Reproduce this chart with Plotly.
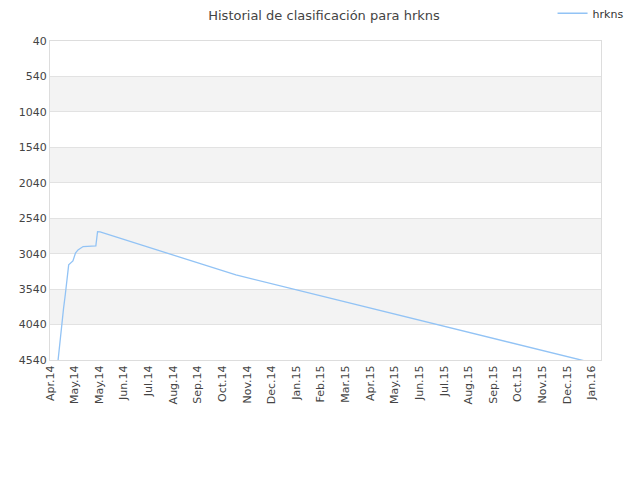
import plotly.graph_objects as go

# datos de la clasificación
fechas = [
    "2014-04-12", "2014-04-15", "2014-04-17", "2014-04-19", "2014-04-21",
    "2014-04-23", "2014-04-24", "2014-04-25", "2014-04-30", "2014-05-02",
    "2014-05-03", "2014-05-06", "2014-05-12", "2014-05-27", "2014-05-28",
    "2014-05-29", "2014-06-01", "2014-11-08", "2015-12-18", "2016-01-12",
]
posiciones = [
    4600, 4230, 4043, 3808, 3620,
    3385, 3245, 3198, 3142, 3081,
    3033, 2987, 2940, 2931, 2846,
    2729, 2734, 3339, 4536, 4605,
]

# etiquetas del eje x (cada 29 días)
tick_fechas = [
    "2014-04-03", "2014-05-02", "2014-05-31", "2014-06-29", "2014-07-28",
    "2014-08-26", "2014-09-24", "2014-10-23", "2014-11-21", "2014-12-20",
    "2015-01-18", "2015-02-16", "2015-03-17", "2015-04-15", "2015-05-14",
    "2015-06-12", "2015-07-11", "2015-08-09", "2015-09-07", "2015-10-06",
    "2015-11-04", "2015-12-03", "2016-01-01",
]
tick_textos = [
    "Apr.14", "May.14", "May.14", "Jun.14", "Jul.14", "Aug.14", "Sep.14",
    "Oct.14", "Nov.14", "Dec.14", "Jan.15", "Feb.15", "Mar.15", "Apr.15",
    "May.15", "Jun.15", "Jul.15", "Aug.15", "Sep.15", "Oct.15", "Nov.15",
    "Dec.15", "Jan.16",
]
y_ticks = [40, 540, 1040, 1540, 2040, 2540, 3040, 3540, 4040, 4540]

fig = go.Figure()
fig.add_trace(go.Scatter(
    x=fechas, y=posiciones, mode="lines", name="hrkns",
    line=dict(color="#92c3f5", width=1.3),
))

# bandas grises alternas
for i in range(1, len(y_ticks) - 1, 2):
    fig.add_shape(type="rect", xref="paper", yref="y", x0=0, x1=1,
                  y0=y_ticks[i], y1=y_ticks[i + 1],
                  fillcolor="#f3f3f3", line_width=0, layer="below")

# la página tiene 8px de margen, se compensa aquí
fig.update_layout(
    width=632, height=472,
    title=dict(text="Historial de clasificación para hrkns", x=0.5, xanchor="center",
               y=1, yanchor="top", pad=dict(t=3, b=0),
               font=dict(size=13, color="#444")),
    font=dict(family="DejaVu Sans", size=11, color="#444"),
    margin=dict(l=42, r=39, t=33, b=120, autoexpand=False),
    plot_bgcolor="white", paper_bgcolor="white",
    showlegend=True,
    legend=dict(x=1.05, xanchor="right", y=1.087, yanchor="middle",
                font=dict(size=11, color="#333"), bgcolor="rgba(0,0,0,0)"),
    xaxis=dict(
        type="date", range=["2014-04-03", "2016-01-12"],
        tickmode="array", tickvals=tick_fechas, ticktext=tick_textos,
        tickangle=-90, showgrid=False, showline=True, linecolor="#ddd",
        mirror=True, ticks="", zeroline=False, automargin=False,
    ),
    yaxis=dict(
        range=[4540, 40], tickmode="array", tickvals=y_ticks,
        showgrid=True, gridcolor="#e2e2e2", showline=True, linecolor="#ddd",
        mirror=True, ticks="", zeroline=False, automargin=False,
    ),
)

fig.write_html("out.html")
